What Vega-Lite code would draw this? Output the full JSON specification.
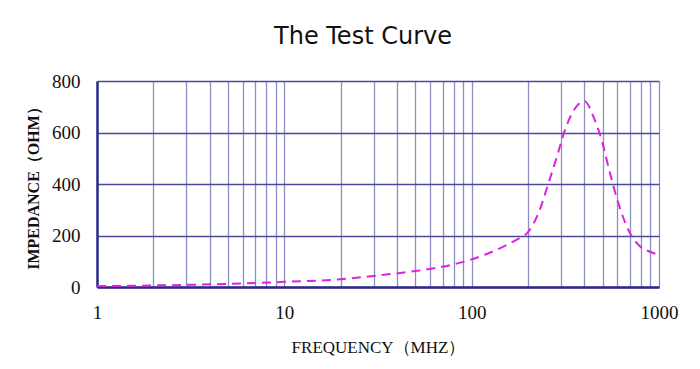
{
  "$schema": "https://vega.github.io/schema/vega-lite/v6.json",
  "autosize": "none",
  "width": 562,
  "height": 206,
  "padding": {"left": 97, "top": 81, "right": 41, "bottom": 82},
  "background": "white",
  "title": {
    "text": "The Test Curve",
    "font": "DejaVu Sans",
    "fontSize": 24,
    "fontWeight": "normal",
    "color": "#111111",
    "anchor": "middle",
    "dx": -15,
    "offset": 23
  },
  "config": {
    "view": {"stroke": null}
  },
  "data": {
    "values": [
      {"f": 1, "z": 3},
      {"f": 2, "z": 6},
      {"f": 5, "z": 12},
      {"f": 10, "z": 20},
      {"f": 20, "z": 30},
      {"f": 30, "z": 43},
      {"f": 50, "z": 62},
      {"f": 77, "z": 85},
      {"f": 98, "z": 105},
      {"f": 142, "z": 151},
      {"f": 180, "z": 190},
      {"f": 197, "z": 208},
      {"f": 212, "z": 241},
      {"f": 227, "z": 286},
      {"f": 257, "z": 403},
      {"f": 285, "z": 506},
      {"f": 315, "z": 610},
      {"f": 357, "z": 694},
      {"f": 400, "z": 722},
      {"f": 447, "z": 661},
      {"f": 494, "z": 571},
      {"f": 548, "z": 441},
      {"f": 607, "z": 325},
      {"f": 687, "z": 221},
      {"f": 793, "z": 157},
      {"f": 896, "z": 137},
      {"f": 1000, "z": 124}
    ]
  },
  "mark": {
    "type": "line",
    "color": "#dd22dd",
    "strokeWidth": 2,
    "strokeDash": [9, 6],
    "interpolate": "monotone",
    "clip": true
  },
  "encoding": {
    "x": {
      "field": "f",
      "type": "quantitative",
      "scale": {"type": "log", "domain": [1, 1000], "nice": false},
      "axis": {
        "title": "FREQUENCY（MHZ）",
        "titleFont": "Liberation Serif",
        "titleFontSize": 17,
        "titleFontWeight": "normal",
        "titleColor": "#111111",
        "titlePadding": 17,
        "values": [1,2,3,4,5,6,7,8,9,10,20,30,40,50,60,70,80,90,100,200,300,400,500,600,700,800,900,1000],
        "labelExpr": "indexof([1,10,100,1000], datum.value) >= 0 ? datum.value : ''",
        "labelFont": "Liberation Serif",
        "labelFontSize": 19,
        "labelColor": "#111111",
        "labelPadding": 16,
        "labelFlush": false,
        "labelOverlap": false,
        "ticks": false,
        "domainColor": "#2a2a88",
        "domainWidth": 2.5,
        "gridColor": "#8e8ec4",
        "gridWidth": 1.3,
        "gridOpacity": 1
      }
    },
    "y": {
      "field": "z",
      "type": "quantitative",
      "scale": {"domain": [0, 800], "nice": false},
      "axis": {
        "title": "IMPEDANCE（OHM）",
        "titleFont": "Liberation Serif",
        "titleFontSize": 16,
        "titleFontWeight": "bold",
        "titleColor": "#111111",
        "titlePadding": 10,
        "values": [0, 200, 400, 600, 800],
        "labelFont": "Liberation Serif",
        "labelFontSize": 19,
        "labelColor": "#111111",
        "labelPadding": 17,
        "ticks": false,
        "domainColor": "#2a2a88",
        "domainWidth": 2.5,
        "gridColor": "#4a4a98",
        "gridWidth": 1.5,
        "gridOpacity": 1
      }
    }
  }
}
